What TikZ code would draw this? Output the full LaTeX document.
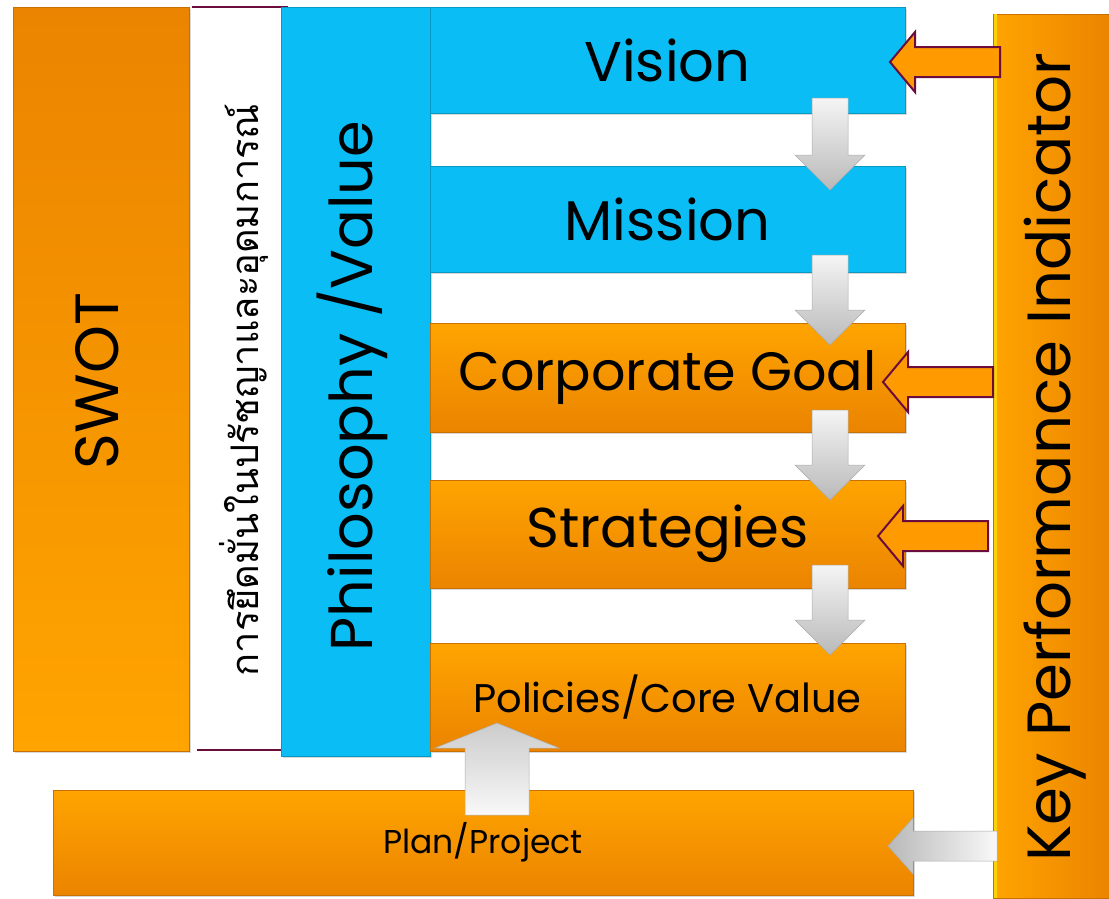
\documentclass[tikz,border=0pt]{standalone}
\usepackage{fontspec}
\setmainfont{Poppins}
\newfontfamily\thaifont[Script=Thai]{Loma}
\usetikzlibrary{calc,shadows}

\definecolor{skyblock}{HTML}{0ABEF5}
\definecolor{orangetop}{HTML}{FFA400}
\definecolor{orangebot}{HTML}{EB8400}
\definecolor{orangefill}{HTML}{FF9A00}
\definecolor{maroon}{HTML}{6A0D3C}

\tikzstyle{block}=[inner sep=0pt, outer sep=0pt, line width=0.6pt,
  drop shadow={opacity=0.3, shadow xshift=2pt, shadow yshift=-2pt}]
\tikzstyle{blueblock}=[block, fill=skyblock, draw=skyblock!80!black]
\tikzstyle{orangeblock}=[block, top color=orangetop, bottom color=orangebot, draw=orangebot!85!black]
\tikzstyle{rule}=[maroon, line width=2.5pt]

% block arrow drawn with "to": shaft half width, head half width, head length
\tikzset{
  fat shaft/.store in=\fatshaft, fat head/.store in=\fathead, fat tip/.store in=\fattip,
  fat shaft=15pt, fat head=30pt, fat tip=25pt,
  fatarrow/.style={to path={
    ($(\tikztostart)!\fatshaft!90:(\tikztotarget)$)
    -- ($($(\tikztotarget)!\fattip!(\tikztostart)$)!\fatshaft!90:(\tikztotarget)$)
    -- ($($(\tikztotarget)!\fattip!(\tikztostart)$)!\fathead!90:(\tikztotarget)$)
    -- (\tikztotarget)
    -- ($($(\tikztotarget)!\fattip!(\tikztostart)$)!\fathead!-90:(\tikztotarget)$)
    -- ($($(\tikztotarget)!\fattip!(\tikztostart)$)!\fatshaft!-90:(\tikztotarget)$)
    -- ($(\tikztostart)!\fatshaft!-90:(\tikztotarget)$) -- cycle}},
  silverdown/.style={fatarrow, top color=white!92!gray, bottom color=gray!55, draw=gray!65, line width=0.5pt},
  silverup/.style={fatarrow, top color=gray!40, bottom color=white!95!gray, draw=gray!65, line width=0.5pt},
  silverleft/.style={fatarrow, left color=gray!55, right color=white!95!gray, draw=gray!65, line width=0.5pt},
  kpiarrow/.style={fatarrow, fill=orangefill, draw=maroon, line width=2pt}
}

\begin{document}
\begin{tikzpicture}[x=1pt, y=-1pt]
\useasboundingbox (0,0) rectangle (1109,898);

\node[orangeblock, top color=orangebot, bottom color=orangetop, minimum width=176pt, minimum height=744pt]
  (swot) at (101,379) {};
\node[rotate=90, font=\fontsize{61}{61}\selectfont] (swotlabel) at (97,381) {SWOT};

\node[minimum width=96pt, minimum height=743pt, inner sep=0pt] (ideal) at (242,378) {};
\node[rotate=90, font=\thaifont\fontsize{38}{38}\selectfont] (ideallabel) at (244,390)
  {การยึดมั่นในปรัชญาและอุดมการณ์};
\draw[rule] (192,7) -- (288,7);
\draw[rule] (197,750) -- (293,750);

\node[blueblock, minimum width=149pt, minimum height=749pt] (philo) at (355.5,381.5) {};
\node[rotate=90, font=\fontsize{59}{59}\selectfont] (philolabel) at (352,386) {Philosophy /Value};

\node[blueblock, minimum width=475pt, minimum height=106pt, font=\fontsize{56}{56}\selectfont]
  (vision) at (667.5,60) {Vision};
\node[blueblock, minimum width=475pt, minimum height=106pt, font=\fontsize{56}{56}\selectfont]
  (mission) at (667.5,219) {Mission};
\node[orangeblock, minimum width=475pt, minimum height=109pt, font=\fontsize{54}{54}\selectfont]
  (goal) at (667.5,377.5) {Corporate Goal};
\node[orangeblock, minimum width=475pt, minimum height=108pt, font=\fontsize{56}{56}\selectfont]
  (strategy) at (667.5,534) {Strategies};
\node[orangeblock, minimum width=475pt, minimum height=108pt, font=\fontsize{40}{40}\selectfont]
  (policy) at (667.5,697) {Policies/Core Value};
\node[orangeblock, minimum width=860pt, minimum height=105pt, font=\fontsize{33}{33}\selectfont]
  (plan) at (483,842.5) {Plan/Project};

\node[orangeblock, left color=orangetop, right color=orangebot, minimum width=116pt, minimum height=884pt]
  (kpi) at (1051,456) {};
\draw[yellow!70!orange, line width=3pt] ([xshift=2pt]kpi.north west) -- ([xshift=2pt]kpi.south west);
\node[rotate=90, font=\fontsize{61}{61}\selectfont] (kpilabel) at (1055,457) {Key Performance Indicator};

\coordinate (d1s) at (830,98);  \coordinate (d1e) at (830,190);
\coordinate (d2s) at (830,255); \coordinate (d2e) at (830,345);
\coordinate (d3s) at (830,410); \coordinate (d3e) at (830,500);
\coordinate (d4s) at (830,565); \coordinate (d4e) at (830,655);
\coordinate (ups) at (497,815); \coordinate (upe) at (497,723);
\coordinate (k1s) at (1000,62); \coordinate (k1e) at (890,62);
\coordinate (k2s) at (993,382); \coordinate (k2e) at (883,382);
\coordinate (k3s) at (988,536); \coordinate (k3e) at (878,536);
\coordinate (k4s) at (997,846); \coordinate (k4e) at (888,846);

\draw[silverdown, fat shaft=18pt, fat head=35pt, fat tip=35pt] (d1s) to (d1e);
\draw[silverdown, fat shaft=18pt, fat head=35pt, fat tip=35pt] (d2s) to (d2e);
\draw[silverdown, fat shaft=18pt, fat head=35pt, fat tip=35pt] (d3s) to (d3e);
\draw[silverdown, fat shaft=18pt, fat head=35pt, fat tip=35pt] (d4s) to (d4e);
\draw[silverup, fat shaft=32pt, fat head=62pt, fat tip=25pt] (ups) to (upe);

\draw[kpiarrow] (k1s) to (k1e);
\draw[kpiarrow] (k2s) to (k2e);
\draw[kpiarrow] (k3s) to (k3e);
\draw[silverleft, fat shaft=15pt, fat head=28pt, fat tip=25pt] (k4s) to (k4e);

\end{tikzpicture}
\end{document}
